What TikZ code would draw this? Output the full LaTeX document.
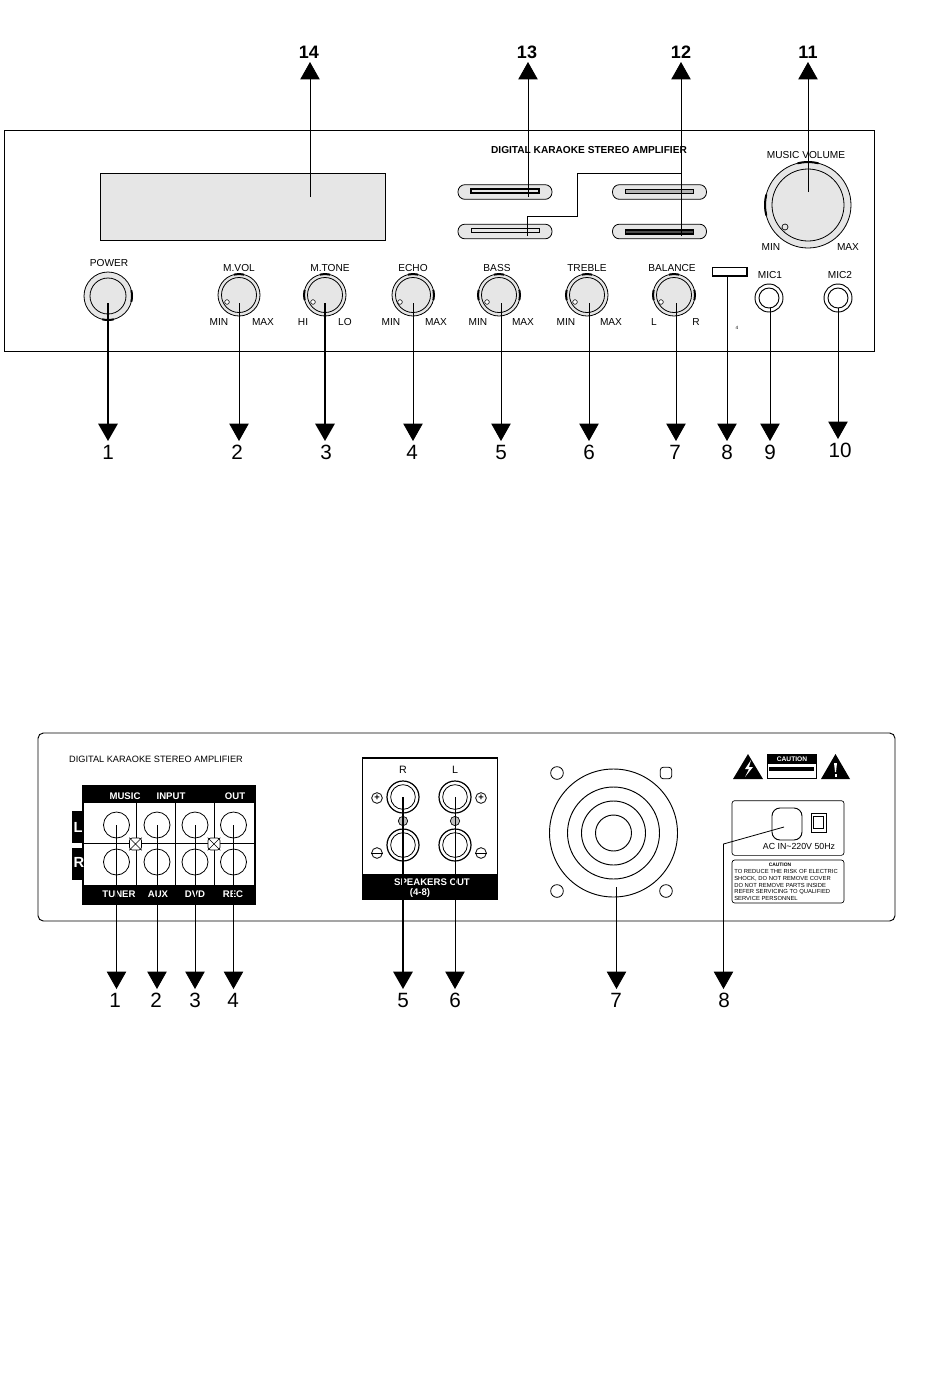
\documentclass[tikz,border=0pt]{standalone}
\usepackage{fontspec}
\setmainfont{Liberation Sans}
\usetikzlibrary{arrows.meta}
\definecolor{knobgray}{HTML}{E6E6E6}
\tikzset{
  x=0.75pt,y=-0.75pt,
  panel/.style={draw=black,line width=0.7pt},
  thinarr/.style={draw=black,line width=0.6pt,-{Triangle[width=14.5pt,length=13pt]}},
  thickarr/.style={draw=black,line width=1.5pt,-{Triangle[width=14.5pt,length=13pt]}},
  wirelink/.style={draw=black,line width=0.6pt},
  numlabel/.style={anchor=north,inner sep=0pt,outer sep=0.8pt,text height=13pt,text depth=0pt,font=\fontsize{15.5}{16}\selectfont},
  toplabel/.style={anchor=south,inner sep=0pt,outer sep=0.8pt,text height=10pt,text depth=2pt,font=\fontsize{13.5}{14}\bfseries\selectfont},
  ctl/.style={inner sep=0pt,font=\fontsize{7.6}{8}\selectfont},
  slide/.style={draw=black,line width=0.6pt,fill=knobgray,rounded corners=5.2pt,minimum width=70.5pt,minimum height=11pt,inner sep=0pt},
  slot/.style={draw=black,inner sep=0pt,minimum width=51pt,minimum height=3pt},
  wlab/.style={inner sep=0pt,text=white,font=\fontsize{7.2}{8}\bfseries\selectfont},
  rca/.style={circle,draw=black,line width=0.6pt,fill=white,minimum size=19.5pt,inner sep=0pt},
  spk/.style={circle,draw=black,line width=0.9pt,fill=white,minimum size=24pt,inner sep=0pt},
  spkin/.style={circle,draw=black,line width=0.6pt,minimum size=18.5pt,inner sep=0pt},
  screw/.style={draw=black,line width=0.5pt,fill=white,rounded corners=2pt,minimum size=9pt,inner sep=0pt},
  hole/.style={circle,draw=black,line width=0.6pt,fill=white,minimum size=9.5pt,inner sep=0pt},
  sign/.style={circle,draw=black,line width=0.6pt,fill=white,minimum size=8pt,inner sep=0pt},
  ring/.style={circle,draw=black,line width=0.7pt,inner sep=0pt},
}
\newcommand{\knobdraw}[6]{%
  \node[circle,draw=black,line width=0.6pt,fill=knobgray,inner sep=0pt,minimum size=#4*1.5pt] (#1) at (#2,#3) {};
  \node[circle,draw=black,line width=0.6pt,inner sep=0pt,minimum size=#5*1.5pt] (#1in) at (#2,#3) {};
  \foreach \mk in {#6} {
    \draw[line width=1.5pt] (#2,#3) ++({\mk-14}:#4) arc[start angle={\mk-14},end angle={\mk+14},radius=#4];
  }
}
\newcommand{\micdraw}[3]{%
  \node[circle,draw=black,line width=0.7pt,fill=white,inner sep=0pt,minimum size=21pt] (#1) at (#2,#3) {};
  \node[circle,draw=black,line width=0.7pt,inner sep=0pt,minimum size=15pt] (#1in) at (#2,#3) {};
}
\begin{document}
\begin{tikzpicture}
\useasboundingbox[fill=white] (0,0) rectangle (950,1397);

%% ---- front panel ----
\node[panel,inner sep=0pt,minimum width=653pt,minimum height=165.75pt] (front) at (439.5,240.5) {};
\node[draw=black,line width=0.7pt,fill=knobgray,inner sep=0pt,minimum width=213.75pt,minimum height=50.25pt] (disp) at (242.5,206.5) {};
\node[inner sep=0pt,font=\fontsize{7.6}{9}\bfseries\selectfont] (title) at (589,150) {DIGITAL KARAOKE STEREO AMPLIFIER};

\node[slide] (sl1) at (505,192) {};
\node[slide] (sl2) at (505,231.5) {};
\node[slide] (sl3) at (659.5,192) {};
\node[slide] (sl4) at (659.5,231.5) {};
\node[slot,line width=0.9pt,fill=knobgray] (sl1s) at (505,191) {};
\node[slot,line width=0.5pt,fill=knobgray] (sl2s) at (505,230.5) {};
\node[slot,line width=0.5pt,fill=black!30] (sl3s) at (659.5,191) {};
\node[slot,line width=1.1pt,fill=black!70] (sl4s) at (659.5,232) {};

\knobdraw{kvol}{808}{205}{43}{36}{180,270}
\node[circle,draw=black,line width=0.5pt,fill=knobgray,inner sep=0pt,minimum size=4.5pt] (kvoldot) at (785,227) {};
\node[ctl] (tvol) at (806,155) {MUSIC VOLUME};
\node[ctl] (tvolmin) at (771,247) {MIN};
\node[ctl] (tvolmax) at (848,247) {MAX};

\knobdraw{k1}{108}{296}{24}{18}{0,90}
\knobdraw{k2}{239}{295}{21}{17.5}{270}
\knobdraw{k3}{325}{295}{21}{17.5}{270,180}
\knobdraw{k4}{413}{295}{21}{17.5}{270,0}
\knobdraw{k5}{499}{295}{21}{17.5}{270,0,180}
\knobdraw{k6}{587}{295}{21}{17.5}{270,180}
\knobdraw{k7}{674}{295}{21}{17.5}{270,0,180}
\foreach \nm/\dx in {k2/227,k3/313,k4/400,k5/487,k6/575,k7/661} {
  \node[circle,draw=black,line width=0.4pt,fill=white,inner sep=0pt,minimum size=3.5pt] (\nm dot) at (\dx,302) {};
}
\node[draw=black,line width=1pt,fill=white,inner sep=0pt,minimum width=26pt,minimum height=6.5pt] (k8) at (729.5,271.5) {};
\micdraw{k9}{769}{298}
\micdraw{k10}{838}{298}

\node[ctl] (t1) at (109,263) {POWER};
\node[ctl] (t2) at (239,268) {M.VOL};
\node[ctl] (t3) at (330,268) {M.TONE};
\node[ctl] (t4) at (413,268) {ECHO};
\node[ctl] (t5) at (497,268) {BASS};
\node[ctl] (t6) at (587,268) {TREBLE};
\node[ctl] (t7) at (672,268) {BALANCE};
\node[ctl] (t9) at (770,275) {MIC1};
\node[ctl] (t10) at (840,275) {MIC2};
\foreach \nm/\tx/\xp in {a/MIN/219,b/MAX/263,c/HI/303,d/LO/345,e/MIN/391,f/MAX/436,g/MIN/478,h/MAX/523,i/MIN/566,j/MAX/611,k/L/654,l/R/696} {
  \node[ctl] (r\nm) at (\xp,322) {\tx};
}
\node[inner sep=0pt,font=\fontsize{3.5}{4}\selectfont] (tick) at (737,328) {4};

%% front numbers
\foreach \nm/\tx/\xp in {n1/1/108,n2/2/237,n3/3/326,n4/4/412,n5/5/501,n6/6/589,n7/7/675,n8/8/727,n9/9/770} {
  \node[numlabel] (\nm) at (\xp,441) {\tx};
}
\node[numlabel] (n10) at (840,439) {10};
\node[toplabel] (n14) at (309,62) {14};
\node[toplabel] (n13) at (527,62) {13};
\node[toplabel] (n12) at (681,62) {12};
\node[toplabel] (n11) at (808,62) {11};

%% front connectors
\coordinate (s1) at (108,303);
\coordinate (s2) at (239,303);
\coordinate (s3) at (325,303);
\coordinate (s4) at (413,303);
\coordinate (s5) at (501,303);
\coordinate (s6) at (589,303);
\coordinate (s7) at (676,303);
\coordinate (s8) at (727,276);
\coordinate (s9) at (770,308);
\coordinate (s10) at (838,308);
\draw[thickarr] (s1) -- (s1 |- n1.north);
\draw[thinarr] (s2) -- (s2 |- n2.north);
\draw[thickarr] (s3) -- (s3 |- n3.north);
\draw[thinarr] (s4) -- (s4 |- n4.north);
\draw[thinarr] (s5) -- (s5 |- n5.north);
\draw[thinarr] (s6) -- (s6 |- n6.north);
\draw[thinarr] (s7) -- (s7 |- n7.north);
\draw[thinarr] (s8) -- (s8 |- n8.north);
\draw[thinarr] (s9) -- (s9 |- n9.north);
\draw[thinarr] (s10) -- (s10 |- n10.north);

\coordinate (u14) at (310,197);
\coordinate (u13) at (528,197);
\coordinate (u12) at (681,236);
\coordinate (u11) at (808,192);
\coordinate (u13b) at (527,236);
\draw[thinarr] (u14) -- (u14 |- n14.south);
\draw[thinarr] (u13) -- (u13 |- n13.south);
\draw[thinarr] (u12) -- (u12 |- n12.south);
\draw[thinarr] (u11) -- (u11 |- n11.south);
\coordinate (junc) at (681,173);
\draw[wirelink] (junc) -- (577,173) -- (577,216.5) -- (527,216.5) -- (u13b);

%% ---- rear panel ----
\node[panel,rounded corners=4pt,inner sep=0pt,minimum width=642.75pt,minimum height=141pt] (rear) at (466.5,827) {};
\node[inner sep=0pt,font=\fontsize{6.9}{7}\selectfont] (rtitle) at (156,759) {DIGITAL KARAOKE STEREO AMPLIFIER};

%% input block
\node[draw=black,line width=1pt,fill=white,inner sep=0pt,minimum width=129pt,minimum height=88.5pt] (inblock) at (169,845) {};
\fill[black] (83,786) rectangle (255,803);
\fill[black] (83,885) rectangle (255,904);
\fill[black] (72,811) rectangle (83,843);
\fill[black] (72,848) rectangle (83,880);
\node[inner sep=0pt,text=white,font=\fontsize{11}{12}\bfseries\selectfont] (tL) at (78,827) {L};
\node[inner sep=0pt,text=white,font=\fontsize{11}{12}\bfseries\selectfont] (tR) at (79,862) {R};
\draw[line width=0.6pt] (136,803) -- (136,885) (175,803) -- (175,885) (214,803) -- (214,885) (83,843.5) -- (255,843.5);
\foreach \nm/\xp in {a/116.5,b/157,c/195,d/233.5} {
  \node[rca] (j\nm1) at (\xp,825) {};
  \node[rca] (j\nm2) at (\xp,862) {};
}
\node[screw] (sc1) at (135.5,844) {};
\node[screw] (sc2) at (214,844) {};
\draw[line width=0.4pt] (sc1.north west) -- (sc1.south east) (sc1.north east) -- (sc1.south west);
\draw[line width=0.4pt] (sc2.north west) -- (sc2.south east) (sc2.north east) -- (sc2.south west);
\node[wlab] (lmusic) at (125,796) {MUSIC};
\node[wlab] (linput) at (171,796) {INPUT};
\node[wlab] (lout) at (235,796) {OUT};
\node[wlab] (ltuner) at (119,894) {TUNER};
\node[wlab] (laux) at (158,894) {AUX};
\node[wlab] (ldvd) at (195,894) {DVD};
\node[wlab] (lrec) at (233,894) {REC};

%% speakers block
\node[draw=black,line width=1pt,fill=white,inner sep=0pt,minimum width=101.5pt,minimum height=105.75pt] (spkblock) at (430,828.5) {};
\fill[black] (362,874) rectangle (498,899);
\node[wlab] (lspk) at (432,882) {SPEAKERS OUT};
\node[wlab] (lohm) at (420,893) {(4-8)};
\node[inner sep=0pt,font=\fontsize{8}{9}\selectfont] (lr) at (403,770) {R};
\node[inner sep=0pt,font=\fontsize{8}{9}\selectfont] (ll) at (455,770) {L};
\foreach \nm/\xp/\yp in {p1/403/797,p2/455/797,p3/403/845,p4/455/845} {
  \node[spk] (\nm) at (\xp,\yp) {};
  \node[spkin] (\nm i) at (\xp,\yp) {};
}
\node[circle,draw=black,line width=0.5pt,fill=black!25,minimum size=7pt,inner sep=0pt] (scp1) at (403,821) {};
\node[circle,draw=black,line width=0.5pt,fill=black!25,minimum size=7pt,inner sep=0pt] (scp2) at (455,821) {};
\node[sign,font=\fontsize{7}{7}\bfseries\selectfont] (plus1) at (377,798) {+};
\node[sign,font=\fontsize{7}{7}\bfseries\selectfont] (plus2) at (481,798) {+};
\node[sign] (minus1) at (377,853) {};
\node[sign] (minus2) at (481,853) {};
\draw[line width=0.6pt] (minus1.west) -- (minus1.east) (minus2.west) -- (minus2.east);

%% speakon
\node[ring,minimum size=96pt] (sp1) at (613.5,833) {};
\node[ring,minimum size=69pt] (sp2) at (613.5,833) {};
\node[ring,minimum size=48pt] (sp3) at (613.5,833) {};
\node[ring,minimum size=27pt] (sp4) at (613.5,833) {};
\node[hole] (h1) at (557,773) {};
\node[hole,rounded corners=2pt,rectangle,minimum size=8.5pt] (h2) at (666,773) {};
\node[hole] (h3) at (557,891) {};
\node[hole] (h4) at (666,891) {};

%% warnings
\fill[black] (733,779) -- (748,754) -- (763,779) -- cycle;
\fill[white] (751,760) -- (745,769) -- (749,769) -- (745,777) -- (753,767) -- (749,767) -- cycle;
\fill[black] (821,779) -- (835.5,754) -- (850,779) -- cycle;
\fill[white] (834,763) -- (837,763) -- (836,772) -- (835,772) -- cycle;
\fill[white] (834.5,774) rectangle (836.5,777);
\node[draw=black,line width=0.5pt,fill=white,inner sep=0pt,minimum width=36.75pt,minimum height=18pt] (caubox) at (791.5,766) {};
\fill[black] (767,754) rectangle (816,764);
\fill[black] (769,767) rectangle (814,771);
\node[inner sep=0pt,text=white,font=\fontsize{5}{6}\bfseries\selectfont] (cautxt) at (792,759) {CAUTION};

%% AC box
\node[draw=black,line width=0.5pt,rounded corners=2pt,inner sep=0pt,minimum width=84pt,minimum height=41pt] (acbox) at (788,828) {};
\node[draw=black,line width=0.7pt,rounded corners=6pt,fill=white,inner sep=0pt,minimum width=22.5pt,minimum height=24pt] (acsock) at (787,824) {};
\node[draw=black,line width=0.6pt,inner sep=0pt,minimum width=11.25pt,minimum height=14.25pt] (acsw) at (818.5,822.5) {};
\node[draw=black,line width=0.5pt,inner sep=0pt,minimum width=7.5pt,minimum height=9pt] (acswi) at (818.5,822.5) {};
\node[inner sep=0pt,font=\fontsize{6.6}{7}\selectfont] (actxt) at (799,846) {AC IN\textasciitilde 220V 50Hz};
\node[draw=black,line width=0.5pt,rounded corners=2pt,inner sep=0pt,minimum width=84pt,minimum height=32.25pt] (caubig) at (788,881.5) {};
\node[inner sep=0pt,font=\fontsize{3.7}{4}\bfseries\selectfont] (cauhead) at (780,865) {CAUTION};
\node[anchor=north west,inner sep=0pt,align=left,font=\fontsize{4.4}{5}\selectfont] (caubody) at (734,869.5) {TO REDUCE THE RISK OF ELECTRIC\\SHOCK, DO NOT REMOVE COVER\\DO NOT REMOVE PARTS INSIDE\\REFER SERVICING TO QUALIFIED\\SERVICE PERSONNEL};

%% rear numbers
\foreach \nm/\tx/\xp in {m1/1/115,m2/2/156,m3/3/195,m4/4/233,m5/5/403,m6/6/455,m7/7/616,m8/8/724} {
  \node[numlabel] (\nm) at (\xp,989) {\tx};
}
\coordinate (q1) at (116.5,825);
\coordinate (q2) at (157,825);
\coordinate (q3) at (195,825);
\coordinate (q4) at (233.5,825);
\coordinate (q5) at (403,797);
\coordinate (q6) at (455,797);
\coordinate (q7) at (616.5,887);
\coordinate (q8) at (784,827);
\coordinate (q8b) at (723.5,844);
\draw[thinarr] (q1) -- (q1 |- m1.north);
\draw[thinarr] (q2) -- (q2 |- m2.north);
\draw[thinarr] (q3) -- (q3 |- m3.north);
\draw[thinarr] (q4) -- (q4 |- m4.north);
\draw[thickarr] (q5) -- (q5 |- m5.north);
\draw[thinarr] (q6) -- (q6 |- m6.north);
\draw[thinarr] (q7) -- (q7 |- m7.north);
\draw[thinarr] (q8) -- (q8b) -- (q8b |- m8.north);
\end{tikzpicture}
\end{document}
